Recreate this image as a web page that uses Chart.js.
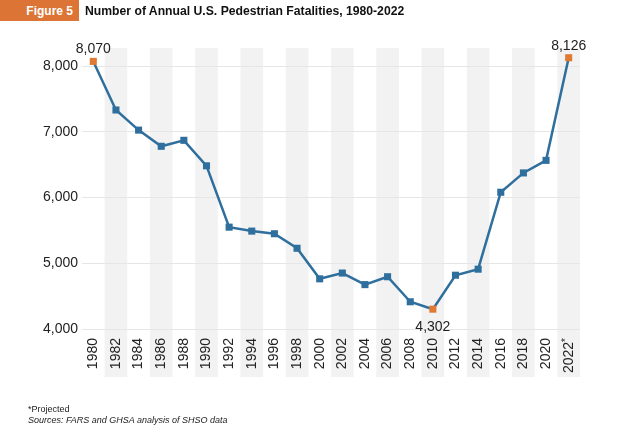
<!DOCTYPE html>
<html>
<head>
<meta charset="utf-8">
<script src="https://cdn.jsdelivr.net/npm/chart.js@4.4.1/dist/chart.umd.min.js"></script>
<style>
  body { margin: 0; background: #fff; font-family: "Liberation Sans", Arial, sans-serif; }
  #wrap { position: relative; width: 640px; height: 436px; overflow: hidden; }
  #chart { position: absolute; left: 0; top: 0; }
  #figBox { position: absolute; left: 0; top: 0; width: 79px; height: 21px; background: #dc7435;
            color: #fff; font-weight: bold; font-size: 12px; line-height: 22px; text-align: right;
            box-sizing: border-box; padding-right: 6px; }
  #figTitle { position: absolute; left: 85px; top: 0; height: 21px; line-height: 22px;
              font-weight: bold; font-size: 12.2px; color: #111; }
  #notes { position: absolute; left: 28px; top: 404px; font-size: 9px; line-height: 11px; color: #222; }
  #notes i { display: block; }
</style>
</head>
<body>
<div id="wrap">
  <canvas id="chart" width="640" height="436"></canvas>
  <div id="figBox">Figure 5</div>
  <div id="figTitle">Number of Annual U.S. Pedestrian Fatalities, 1980-2022</div>
  <div id="notes">*Projected<i>Sources: FARS and GHSA analysis of SHSO data</i></div>
</div>
<script>
//////////////////////
// data
//////////////////////
const yearLabels = ['1980', '1982', '1984', '1986', '1988', '1990', '1992', '1994', '1996', '1998', '2000',
  '2002', '2004', '2006', '2008', '2010', '2012', '2014', '2016', '2018', '2020', '2022*'];
const fatalities = [8070, 7331, 7025, 6779, 6870, 6482, 5549, 5489, 5449, 5228, 4763,
  4851, 4675, 4795, 4414, 4302, 4818, 4910, 6080, 6374, 6565, 8126];
const highlightLabels = ['1980', '2010', '2022*'];   // orange markers with value labels
const yTicks = [4000, 5000, 6000, 7000, 8000];

const blue = '#2f6f9d';
const orange = '#e07a33';
const fontFamily = '"Liberation Sans", Arial, sans-serif';

const pointColors = yearLabels.map(l => highlightLabels.includes(l) ? orange : blue);

// grey column behind every other year
const bandPlugin = {
  id: 'bands',
  beforeDraw(chart) {
    const ctx = chart.ctx;
    const x = chart.scales.x;
    const top = chart.chartArea.top;
    const bottom = x.bottom;
    const w = x.getPixelForValue(1) - x.getPixelForValue(0);
    ctx.save();
    ctx.fillStyle = '#f2f2f2';
    for (let i = 1; i < yearLabels.length; i += 2) {
      const cx = x.getPixelForValue(i);
      ctx.fillRect(cx - w / 2, top, w, bottom - top);
    }
    ctx.restore();
  }
};

// rotated year labels, drawn by hand so the asterisk can be small
const yearLabelPlugin = {
  id: 'yearLabels',
  afterDraw(chart) {
    const ctx = chart.ctx;
    const x = chart.scales.x;
    const top = chart.chartArea.bottom + 9;
    ctx.save();
    ctx.fillStyle = '#222';
    ctx.textBaseline = 'middle';
    ctx.textAlign = 'right';
    for (let i = 0; i < yearLabels.length; i++) {
      let label = yearLabels[i];
      ctx.save();
      ctx.translate(x.getPixelForValue(i), top);
      ctx.rotate(-Math.PI / 2);
      let shift = 0;
      if (label.endsWith('*')) {
        label = label.slice(0, -1);
        ctx.font = '10px ' + fontFamily;
        ctx.fillText('*', 0, -2);
        shift = ctx.measureText('*').width;
      }
      ctx.font = '14px ' + fontFamily;
      ctx.fillText(label, -shift, 0);
      ctx.restore();
    }
    ctx.restore();
  }
};

// value labels on the highlighted points
const valueLabelPlugin = {
  id: 'valueLabels',
  afterDatasetsDraw(chart) {
    const ctx = chart.ctx;
    const meta = chart.getDatasetMeta(0);
    ctx.save();
    ctx.font = '14px ' + fontFamily;
    ctx.fillStyle = '#222';
    ctx.textAlign = 'center';
    ctx.textBaseline = 'middle';
    for (let i = 0; i < yearLabels.length; i++) {
      if (!highlightLabels.includes(yearLabels[i])) continue;
      const pt = meta.data[i];
      const text = fatalities[i].toLocaleString('en-US');
      const below = i > 0 && i < yearLabels.length - 1;
      ctx.fillText(text, pt.x, below ? pt.y + 18 : pt.y - 12);
    }
    ctx.restore();
  }
};

const config = {
  type: 'line',
  data: {
    labels: yearLabels,
    datasets: [{
      data: fatalities,
      borderColor: blue,
      borderWidth: 2.5,
      pointStyle: 'rect',
      pointRadius: 5,
      pointHoverRadius: 5,
      pointBackgroundColor: pointColors,
      pointBorderColor: pointColors,
      pointBorderWidth: 0,
      tension: 0
    }]
  },
  options: {
    responsive: false,
    animation: false,
    layout: { padding: { top: 48, right: 60, bottom: 59, left: 0 } },
    plugins: { legend: { display: false }, tooltip: { enabled: false } },
    scales: {
      x: {
        offset: true,
        grid: { display: false },
        border: { display: false },
        ticks: { display: false },
        afterFit(scale) { scale.height = 48; }
      },
      y: {
        min: 4000,
        max: 8274,
        afterBuildTicks(scale) { scale.ticks = yTicks.map(v => ({ value: v })); },
        grid: { color: '#e6e6e6', lineWidth: 1, drawTicks: false },
        border: { display: false },
        ticks: {
          padding: 4,
          color: '#222',
          font: { family: fontFamily, size: 14 },
          callback: v => v.toLocaleString('en-US')
        },
        afterFit(scale) { scale.width = 82; }
      }
    }
  },
  plugins: [bandPlugin, yearLabelPlugin, valueLabelPlugin]
};

new Chart(document.getElementById('chart'), config);
</script>
</body>
</html>
